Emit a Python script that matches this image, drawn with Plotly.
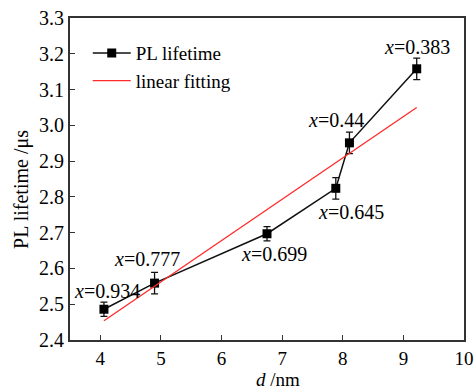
import plotly.graph_objects as go

# PL lifetime versus particle size d
d_nm = [4.06, 4.895, 6.75, 7.885, 8.11, 9.22]
lifetime_us = [2.486, 2.559, 2.697, 2.824, 2.951, 3.158]
lifetime_err = [0.02, 0.03, 0.02, 0.03, 0.03, 0.03]
x_labels = ["0.934", "0.777", "0.699", "0.645", "0.44", "0.383"]

# linear fitting end points
fit_d = [4.06, 9.22]
fit_lifetime = [2.454, 3.05]

x_ticks = [4, 5, 6, 7, 8, 9, 10]
y_ticks = [2.4, 2.5, 2.6, 2.7, 2.8, 2.9, 3.0, 3.1, 3.2, 3.3]

# pixel offsets of each composition label from its point
label_dx = [3, -8, 7, 15, -13, 0]
label_dy = [18, 24, -20, -24, 23, 22]

FONT = "'Liberation Serif', 'Times New Roman', Tinos, serif"

fig = go.Figure()
fig.add_trace(go.Scatter(
    x=d_nm, y=lifetime_us, mode="lines+markers", name="PL lifetime",
    line=dict(color="#111111", width=1.5),
    marker=dict(symbol="square", size=9, color="#000000"),
    error_y=dict(type="data", array=lifetime_err, color="#111111",
                 thickness=1.3, width=3.5),
))
fig.add_trace(go.Scatter(
    x=fit_d, y=fit_lifetime, mode="lines", name="linear fitting",
    line=dict(color="#ff2a2a", width=1.3),
))

for xv, yv, lab, dx, dy in zip(d_nm, lifetime_us, x_labels, label_dx, label_dy):
    fig.add_annotation(
        x=xv, y=yv, xref="x", yref="y", text=f"<i>x</i>={lab}",
        showarrow=False, xshift=dx, yshift=dy,
        font=dict(family=FONT, size=20, color="#000000"),
    )

# axis titles
fig.add_annotation(
    x=0.528, y=-0.124, xref="paper", yref="paper", text="<i>d</i> /nm",
    showarrow=False, xanchor="center", yanchor="middle",
    font=dict(family=FONT, size=19, color="#000000"),
)
fig.add_annotation(
    x=-0.122, y=0.469, xref="paper", yref="paper", text="PL lifetime /μs",
    showarrow=False, xanchor="center", yanchor="middle", textangle=-90,
    font=dict(family=FONT, size=20, color="#000000"),
)

axis_common = dict(
    showline=True, linecolor="#333333", linewidth=2, mirror=True,
    ticks="inside", ticklen=5, tickwidth=1.3, tickcolor="#333333",
    showgrid=False, zeroline=False,
)

fig.update_xaxes(
    range=[3.5, 10], tickvals=x_ticks, ticktext=[str(v) for v in x_ticks],
    tickfont=dict(family=FONT, size=19, color="#000000"),
    **axis_common,
)
fig.update_yaxes(
    range=[2.4, 3.3], tickvals=y_ticks, ticktext=[f"{v:.1f}" for v in y_ticks],
    tickfont=dict(family=FONT, size=20, color="#000000"),
    **axis_common,
)

fig.update_layout(
    width=476, height=391,
    margin=dict(l=70, r=12, t=18, b=51, autoexpand=False),
    paper_bgcolor="white", plot_bgcolor="white",
    showlegend=True,
    legend=dict(
        x=0.045, y=0.95, xanchor="left", yanchor="top",
        bgcolor="rgba(0,0,0,0)", borderwidth=0,
        font=dict(family=FONT, size=19, color="#000000"),
        itemwidth=38, tracegroupgap=0,
    ),
)

fig.write_html("out.html")
